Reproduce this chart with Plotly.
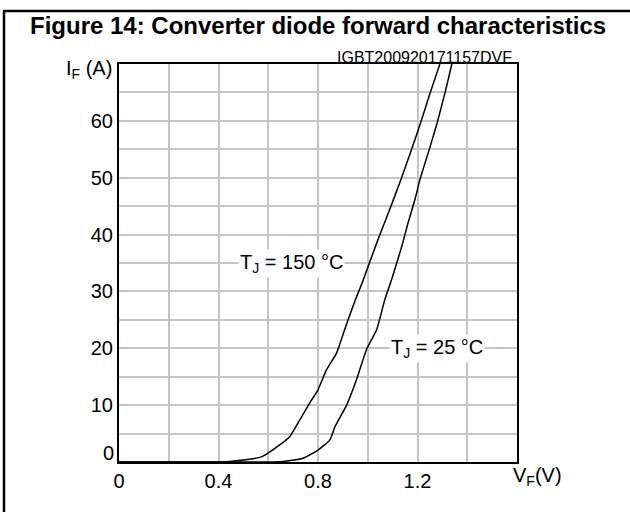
import plotly.graph_objects as go

# ---- data ----
vf_150 = [0.0, 0.40, 0.445, 0.573, 0.646, 0.687, 0.727, 0.767, 0.800, 0.834, 0.875, 0.905,
          0.921, 0.950, 0.982, 1.009, 1.049, 1.089, 1.136, 1.170, 1.210, 1.250, 1.290]
if_150 = [0.0, 0.0, 0.1, 0.9, 3.0, 4.5, 7.4, 10.4, 12.7, 16.2, 19.2, 23.0,
          25.0, 28.5, 32.0, 35.3, 40.0, 44.5, 50.0, 54.2, 59.3, 64.8, 70.0]

vf_25 = [0.0, 0.62, 0.66, 0.74, 0.80, 0.848, 0.868, 0.915, 0.955, 0.995,
         1.036, 1.069, 1.096, 1.136, 1.163, 1.190, 1.210, 1.244, 1.278, 1.311, 1.338]
if_25 = [0.0, 0.0, 0.1, 0.65, 2.1, 3.9, 6.2, 10.0, 14.5, 19.8,
         23.3, 28.6, 32.1, 37.8, 42.2, 46.2, 49.7, 54.5, 59.5, 65.0, 70.0]

x_ticks = [0, 0.2, 0.4, 0.6, 0.8, 1.0, 1.2, 1.4, 1.6]
x_tick_labels = ["0", "", "0.4", "", "0.8", "", "1.2", "", ""]
y_ticks = [0, 5, 10, 15, 20, 25, 30, 35, 40, 45, 50, 55, 60, 65, 70]
y_tick_labels = ["", "", "10", "", "20", "", "30", "", "40", "", "50", "", "60", "", ""]

title_text = "Figure 14: Converter diode forward characteristics"
code_text = "IGBT200920171157DVF"
label_150 = "T<sub>J</sub> = 150 °C"
label_25 = "T<sub>J</sub> = 25 °C"

FONT = "Liberation Sans, Arial, sans-serif"

fig = go.Figure()
fig.add_trace(go.Scatter(x=vf_150, y=if_150, mode="lines",
                         line=dict(color="black", width=1.5, shape="spline", smoothing=0.5),
                         hoverinfo="skip", showlegend=False))
fig.add_trace(go.Scatter(x=vf_25, y=if_25, mode="lines",
                         line=dict(color="black", width=1.5, shape="spline", smoothing=0.5),
                         hoverinfo="skip", showlegend=False))

L, R, T, B = 119, 113, 64, 50
W, H = 630, 512
pw, ph = W - L - R, H - T - B

def px(x):
    return (x - L) / pw

def py(y):
    return (H - B - y) / ph

fig.update_layout(
    width=W, height=H,
    margin=dict(l=L, r=R, t=T, b=B),
    paper_bgcolor="white", plot_bgcolor="white",
    font=dict(family=FONT, size=20, color="black"),
    showlegend=False,
    xaxis=dict(range=[0, 1.6], tickvals=x_ticks, ticktext=x_tick_labels,
               showgrid=True, gridcolor="#c4c4c4", gridwidth=1.5,
               showline=True, linecolor="black", linewidth=2, mirror=True,
               ticks="", zeroline=False, tickfont=dict(size=20)),
    yaxis=dict(range=[0, 70], tickvals=y_ticks, ticktext=y_tick_labels,
               showgrid=True, gridcolor="#c4c4c4", gridwidth=1.5,
               showline=True, linecolor="black", linewidth=2, mirror=True,
               ticks="", zeroline=False, tickfont=dict(size=20)),
    shapes=[
        dict(type="line", xref="paper", yref="paper", x0=px(3), x1=px(630),
             y0=py(11), y1=py(11), line=dict(color="black", width=2.5)),
        dict(type="line", xref="paper", yref="paper", x0=px(4), x1=px(4),
             y0=py(10), y1=py(512), line=dict(color="black", width=2.5)),
    ],
    annotations=[
        dict(text="<b>" + title_text + "</b>", xref="paper", yref="paper", x=px(318), y=py(26),
             xanchor="center", yanchor="middle", showarrow=False, font=dict(size=24)),
        dict(text=code_text, xref="paper", yref="paper", x=px(514), y=py(57),
             xanchor="right", yanchor="middle", showarrow=False, font=dict(size=16)),
        dict(text="I<sub>F</sub> (A)", xref="paper", yref="paper", x=px(114), y=py(70),
             xanchor="right", yanchor="middle", showarrow=False, font=dict(size=20)),
        dict(text="V<sub>F</sub>(V)", xref="paper", yref="paper", x=px(511), y=py(476),
             xanchor="left", yanchor="middle", showarrow=False, font=dict(size=20)),
        dict(text="0", xref="paper", yref="paper", x=px(116), y=py(453),
             xanchor="right", yanchor="middle", showarrow=False, font=dict(size=20)),
        dict(text=label_150, x=0.693, y=35, xref="x", yref="y", showarrow=False,
             xanchor="center", yanchor="middle", bgcolor="white", borderpad=1,
             font=dict(size=20)),
        dict(text=label_25, x=1.277, y=20, xref="x", yref="y", showarrow=False,
             xanchor="center", yanchor="middle", bgcolor="white", borderpad=1,
             font=dict(size=20)),
    ],
)

fig.write_html("out.html", config={"displayModeBar": False},
               post_script="document.body.style.margin='0';document.body.style.padding='0';")
